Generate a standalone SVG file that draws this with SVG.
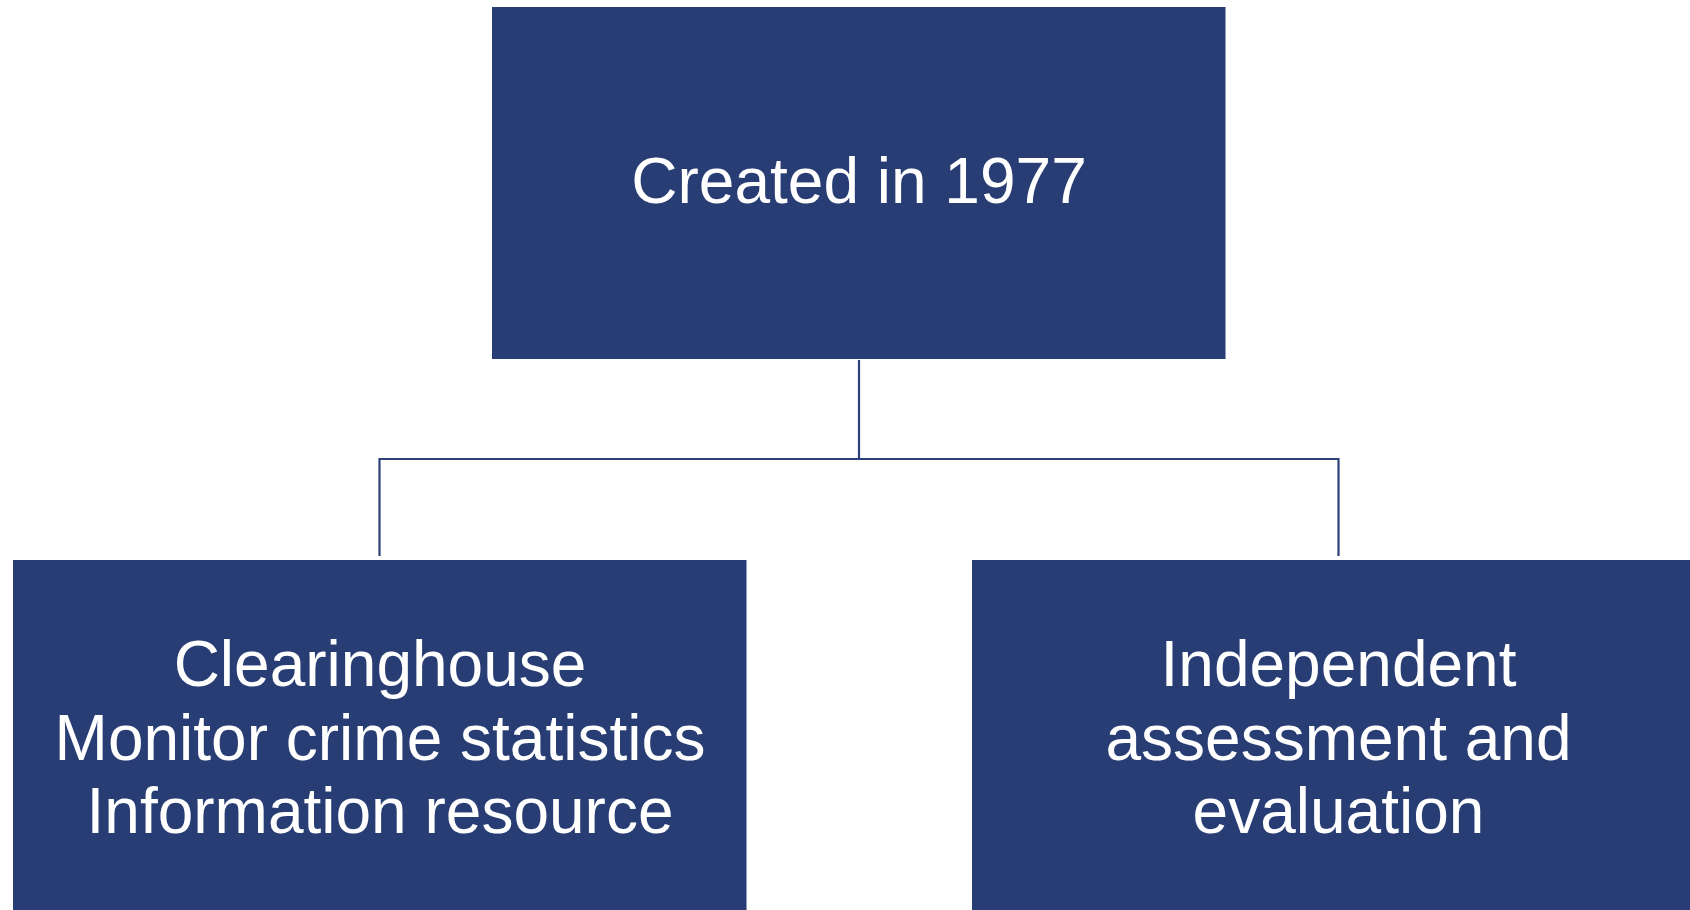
<svg xmlns="http://www.w3.org/2000/svg" width="1690" height="910" viewBox="0 0 1690 910">
<style>
.box{fill:#293D75;}
.lbl{font-family:"Liberation Sans",Arial,sans-serif;font-size:64px;fill:#FFFFFF;text-anchor:middle;}
.conn{fill:none;stroke:#2D4179;stroke-width:2.2;}
</style>
<rect width="1690" height="910" fill="#FFFFFF"/>
<g id="connectors">
<path class="conn" d="M859,360 V459 M379.5,459 H1338.5 M379.5,458 V556 M1338.5,458 V556"/>
</g>
<g id="node-top">
<rect class="box" x="492" y="7" width="733.5" height="352"/>
<text class="lbl" x="859" y="203">Created in 1977</text>
</g>
<g id="node-left">
<rect class="box" x="13" y="560" width="733.5" height="360"/>
<text class="lbl" x="380" y="686">Clearinghouse</text>
<text class="lbl" x="380" y="760">Monitor crime statistics</text>
<text class="lbl" x="380" y="833">Information resource</text>
</g>
<g id="node-right">
<rect class="box" x="972" y="560" width="733.5" height="360"/>
<text class="lbl" x="1338.5" y="686">Independent</text>
<text class="lbl" x="1338.5" y="760">assessment and</text>
<text class="lbl" x="1338.5" y="833">evaluation</text>
</g>
</svg>
